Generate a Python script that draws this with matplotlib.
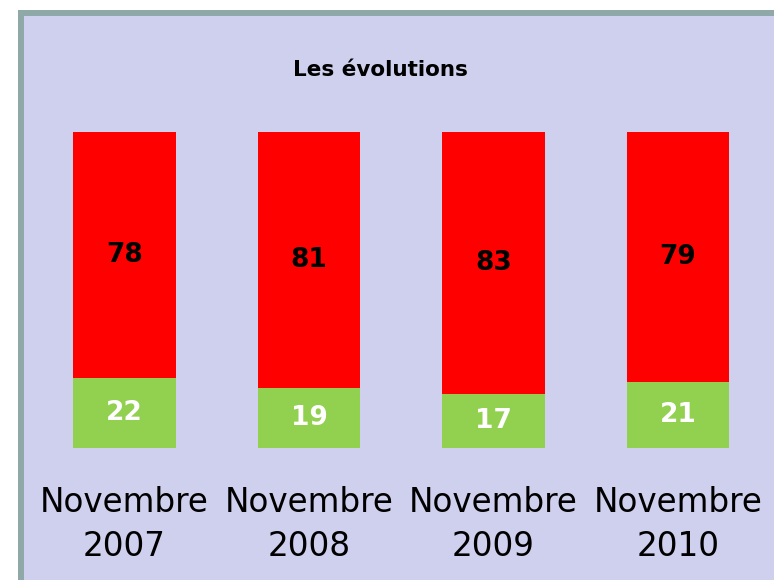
import matplotlib.pyplot as plt
from matplotlib.patches import Rectangle

periods = ['Novembre\n2007', 'Novembre\n2008', 'Novembre\n2009', 'Novembre\n2010']
green_vals = [22, 19, 17, 21]
red_vals = [78, 81, 83, 79]

W, H = 774, 580
fig = plt.figure(figsize=(W / 100, H / 100), dpi=100, facecolor='white')

# frame: grey border on left/top, lavender panel
fig.patches.append(Rectangle((18 / W, 0), 1, 1 - 10 / H, transform=fig.transFigure,
                             facecolor='#8FA8A8', edgecolor='none', zorder=-2))
fig.patches.append(Rectangle((24 / W, 0), 1, 1 - 16 / H, transform=fig.transFigure,
                             facecolor='#CFCFEE', edgecolor='none', zorder=-1))

# axes placed in pixels: x from 32 to 770, y from 132 (top) to 448 (bottom)
ax = fig.add_axes([32.25 / W, 1 - 448 / H, (770.25 - 32.25) / W, (448 - 132) / H])
ax.set_zorder(2)
ax.set_facecolor('none')
x = list(range(len(periods)))
width = 0.558

ax.bar(x, green_vals, width, color='#92D050', edgecolor='none')
ax.bar(x, red_vals, width, bottom=green_vals, color='#FF0000', edgecolor='none')

for i in x:
    ax.text(i, green_vals[i] / 2, str(green_vals[i]), ha='center', va='center',
            color='white', fontsize=19, fontweight='bold')
    ax.text(i, green_vals[i] + red_vals[i] / 2, str(red_vals[i]), ha='center', va='center',
            color='black', fontsize=19, fontweight='bold')

ax.set_xlim(-0.5, 3.5)
ax.set_ylim(0, 100)
ax.set_xticks(x)
ax.set_xticklabels(periods, fontsize=23.5, linespacing=1.45)
ax.tick_params(axis='x', length=0, pad=27)
ax.set_yticks([])
for s in ax.spines.values():
    s.set_visible(False)

fig.text(380 / W, 1 - 70 / H, 'Les évolutions', ha='center', va='center',
         fontsize=15.5, fontweight='bold', color='black')

fig.savefig('out.png', dpi=100)
